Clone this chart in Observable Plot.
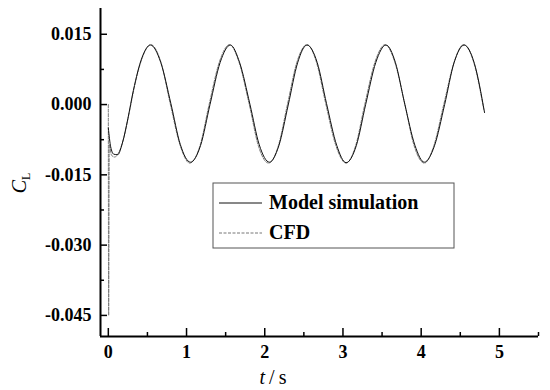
<!DOCTYPE html>
<html><head><meta charset="utf-8">
<script src="https://cdn.jsdelivr.net/npm/d3@7"></script>
<script src="https://cdn.jsdelivr.net/npm/@observablehq/plot@0.6"></script>
<style>body{margin:0;background:#fff} #chart{width:550px;height:390px}</style>
</head><body><div id="chart"></div>
<script>
const modelT = [0, 0.03, 0.07, 0.12, 0.18, 0.25, 0.32, 0.43, 0.54, 0.67, 0.80, 0.92, 1.05, 1.18, 1.30, 1.43, 1.56, 1.68, 1.81, 1.93, 2.06, 2.18, 2.30, 2.42, 2.54, 2.67, 2.79, 2.92, 3.04, 3.17, 3.29, 3.42, 3.55, 3.67, 3.79, 3.92, 4.04, 4.17, 4.30, 4.42, 4.55, 4.68, 4.81];
const modelCL = [-0.0050, -0.0090, -0.0106, -0.0107, -0.0082, -0.0030, 0.0030, 0.0100, 0.0127, 0.0090, 0.0002, -0.0085, -0.0123, -0.0087, 0.0000, 0.0090, 0.0127, 0.0089, 0.0001, -0.0086, -0.0123, -0.0088, -0.0001, 0.0089, 0.0127, 0.0090, 0.0002, -0.0087, -0.0124, -0.0088, 0.0000, 0.0090, 0.0127, 0.0090, 0.0001, -0.0087, -0.0123, -0.0088, 0.0000, 0.0089, 0.0127, 0.0088, -0.0017];
const cfdT = [0, 0.004, 0.012, 0.04, 0.08, 0.14, 0.20, 0.27, 0.33, 0.43, 0.54, 0.67, 0.79, 0.92, 1.04, 1.17, 1.29, 1.42, 1.55, 1.67, 1.80, 1.92, 2.05, 2.17, 2.29, 2.41, 2.54, 2.66, 2.78, 2.91, 3.04, 3.16, 3.28, 3.41, 3.54, 3.66, 3.79, 3.91, 4.04, 4.16, 4.29, 4.42, 4.54, 4.67, 4.80];
const cfdCL = [0.0000, -0.0450, -0.0085, -0.0108, -0.0112, -0.0100, -0.0070, -0.0015, 0.0035, 0.0098, 0.0128, 0.0092, 0.0003, -0.0088, -0.0125, -0.0089, 0.0001, 0.0091, 0.0128, 0.0091, 0.0002, -0.0089, -0.0125, -0.0090, 0.0000, 0.0090, 0.0128, 0.0091, 0.0002, -0.0088, -0.0125, -0.0089, 0.0001, 0.0091, 0.0128, 0.0092, 0.0002, -0.0088, -0.0125, -0.0089, 0.0001, 0.0090, 0.0128, 0.0091, -0.0010];
const xMajorTicks = [0, 1, 2, 3, 4, 5];
const xMinorTicks = [0.5, 1.5, 2.5, 3.5, 4.5, 5.5];
const yMajorTicks = [-0.045, -0.03, -0.015, 0, 0.015];
const yMinorTicks = [-0.0375, -0.0225, -0.0075, 0.0075];
const xDomain = [-0.1, 5.5];
const yDomain = [-0.0495, 0.0205];
const seriesNames = ["Model simulation", "CFD"];

const W = 550, H = 390, mL = 100, mR = 12, mT = 8, mB = 54;
const pw = W - mL - mR, ph = H - mT - mB;
const model = modelT.map((t, i) => ({t, cl: modelCL[i]}));
const cfd = cfdT.map((t, i) => ({t, cl: cfdCL[i]}));
const serif = "'Liberation Serif', 'Times New Roman', serif";

const chart = Plot.plot({
  width: W, height: H,
  marginLeft: mL, marginRight: mR, marginTop: mT, marginBottom: mB,
  x: {domain: xDomain},
  y: {domain: yDomain},
  style: {fontFamily: serif, fontSize: "18px", fontWeight: "bold", color: "#000", background: "#fff"},
  marks: [
    Plot.line(cfd, {x: "t", y: "cl", stroke: "#777", strokeWidth: 1, strokeDasharray: "3,1.5", curve: "monotone-x"}),
    Plot.line(model, {x: "t", y: "cl", stroke: "#111", strokeWidth: 1, curve: "monotone-x"}),
    Plot.ruleY(yMajorTicks, {y: d => d, insetRight: pw - 7, stroke: "#000", strokeWidth: 1.5}),
    Plot.ruleY(yMinorTicks, {y: d => d, insetRight: pw - 4, stroke: "#000", strokeWidth: 1.5}),
    Plot.ruleX(xMajorTicks, {x: d => d, insetTop: ph - 8, stroke: "#000", strokeWidth: 1.5}),
    Plot.ruleX(xMinorTicks, {x: d => d, insetTop: ph - 4, stroke: "#000", strokeWidth: 1.5}),
    Plot.ruleX([xDomain[0]], {stroke: "#000", strokeWidth: 2}),
    Plot.ruleY([yDomain[0]], {stroke: "#000", strokeWidth: 2}),
    Plot.axisY(yMajorTicks, {tickSize: 0, tickPadding: 9, tickFormat: d => d.toFixed(3), label: null}),
    Plot.axisX(xMajorTicks, {tickSize: 0, tickPadding: 9, tickFormat: d => String(d), label: null})
  ]
});
document.getElementById("chart").appendChild(chart);

const svg = d3.select(chart);
// y label C_L
const yl = svg.append("text")
  .attr("transform", "translate(26,183) rotate(-90)")
  .attr("text-anchor", "middle")
  .attr("font-family", serif).attr("font-weight", "normal").attr("font-size", 20).attr("fill", "#000");
yl.append("tspan").attr("font-style", "italic").text("C");
yl.append("tspan").attr("font-size", 12).attr("dy", 4).text("L");
// x label t/s
const xl = svg.append("text")
  .attr("x", 273).attr("y", 384)
  .attr("text-anchor", "middle")
  .attr("font-family", serif).attr("font-weight", "normal").attr("font-size", 20).attr("fill", "#000");
xl.append("tspan").attr("font-style", "italic").text("t");
xl.append("tspan").text("\u2009/\u2009s");
// legend
const lg = svg.append("g");
lg.append("rect").attr("x", 213).attr("y", 183).attr("width", 241).attr("height", 65)
  .attr("fill", "#fff").attr("stroke", "#555").attr("stroke-width", 1);
lg.append("line").attr("x1", 219).attr("x2", 262).attr("y1", 203).attr("y2", 203)
  .attr("stroke", "#111").attr("stroke-width", 1);
lg.append("line").attr("x1", 219).attr("x2", 262).attr("y1", 233).attr("y2", 233)
  .attr("stroke", "#777").attr("stroke-width", 1).attr("stroke-dasharray", "3,1.5");
lg.append("text").attr("x", 269).attr("y", 209).attr("text-anchor", "start").attr("font-family", serif)
  .attr("font-weight", "bold").attr("font-size", 20).attr("fill", "#000").text(seriesNames[0]);
lg.append("text").attr("x", 269).attr("y", 239).attr("text-anchor", "start").attr("font-family", serif)
  .attr("font-weight", "bold").attr("font-size", 20).attr("fill", "#000").text(seriesNames[1]);
</script>
</body></html>
